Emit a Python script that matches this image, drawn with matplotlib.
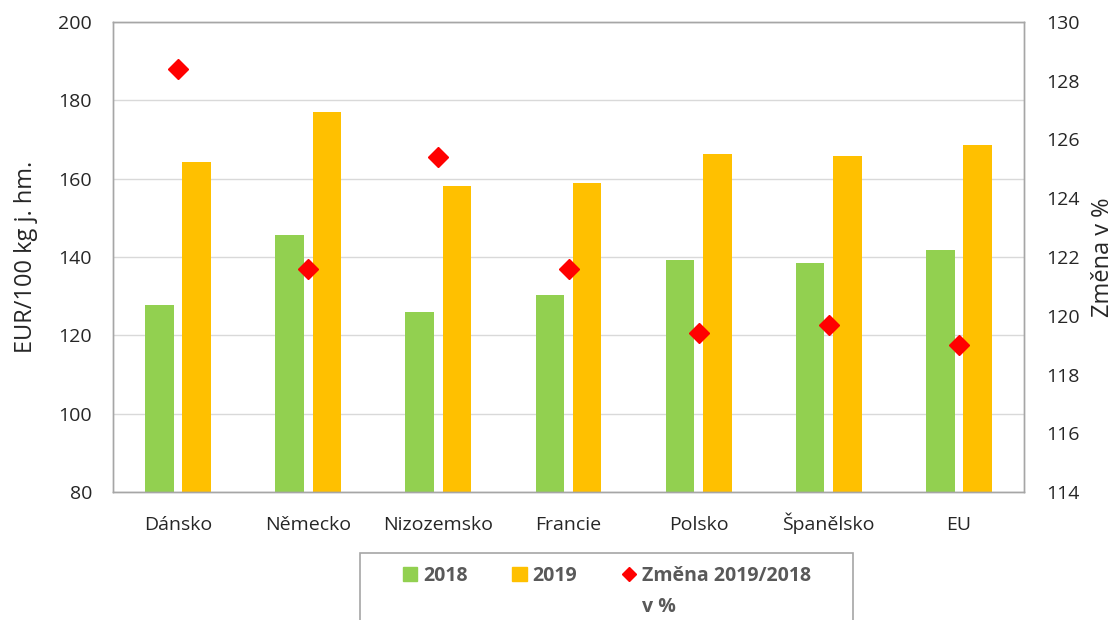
import numpy as np
import matplotlib.pyplot as plt
from matplotlib.patches import Patch, Rectangle
from matplotlib.lines import Line2D

# Data
countries = ['Dánsko', 'Německo', 'Nizozemsko', 'Francie', 'Polsko', 'Španělsko', 'EU']
price_2018 = [127.7, 145.7, 126.0, 130.4, 139.2, 138.4, 141.7]
price_2019 = [164.2, 177.1, 158.2, 159.0, 166.2, 165.9, 168.6]
change_pct = [128.4, 121.6, 125.4, 121.6, 119.4, 119.7, 119.0]

plt.rcParams['font.family'] = ['Open Sans', 'DejaVu Sans']

W, H = 1118, 620
fig = plt.figure(figsize=(W / 100, H / 100), dpi=100)
ax = fig.add_axes([113 / W, 1 - 492 / H, 911 / W, 470 / H])
ax2 = ax.twinx()

x = np.arange(len(countries))
bw = 0.219
off = 0.143
ax.bar(x - off, price_2018, bw, color='#92D050', zorder=2)
ax.bar(x + off, price_2019, bw, color='#FFC000', zorder=2)
ax2.plot(x, change_pct, linestyle='none', marker='D', markersize=10,
         color='#FF0000', zorder=3)

ax.set_xlim(-0.5, len(countries) - 0.5)
ax.set_ylim(80, 200)
ax.set_yticks(np.arange(80, 201, 20))
ax2.set_ylim(114, 130)
ax2.set_yticks(np.arange(114, 131, 2))

ax.set_xticks(x)
ax.set_xticklabels(countries)
ax.yaxis.grid(True, color='#D9D9D9', linewidth=1)
ax.set_axisbelow(True)

for a in (ax, ax2):
    for s in a.spines.values():
        s.set_color('#A6A6A6')
        s.set_linewidth(1)
    a.tick_params(length=0, labelsize=14, colors='#262626')
ax.tick_params(axis='y', pad=15)
ax.tick_params(axis='x', pad=27)
ax2.tick_params(axis='y', pad=16)
# keep labels on one baseline (Š would otherwise push its label down)
for t in ax.get_xticklabels():
    t.set_verticalalignment('baseline')

ax.set_ylabel('EUR/100 kg j. hm.', fontsize=17, color='#262626', labelpad=15)
ax2.set_ylabel('Změna v %', fontsize=17, color='#262626', labelpad=8)

# Legend box (runs off the bottom edge like the original)
fig.patches.append(Rectangle((360 / W, -0.1), (853 - 360) / W, 0.1 + (620 - 553) / H,
                             transform=fig.transFigure, facecolor='white',
                             edgecolor='#A6A6A6', linewidth=1.2))
handles = [Patch(color='#92D050'), Patch(color='#FFC000'),
           Line2D([], [], linestyle='none', marker='D', markersize=7, color='#FF0000')]
leg = fig.legend(handles, ['2018', '2019', 'Změna 2019/2018'], ncol=3,
                 loc='center left', bbox_to_anchor=(385 / W, 1 - 576 / H),
                 frameon=False, handlelength=0.75, handleheight=0.75,
                 handletextpad=0.3, columnspacing=2.3,
                 prop={'size': 14, 'weight': 'bold'}, labelcolor='#595959')

fig.canvas.draw()
bb = leg.get_texts()[2].get_window_extent()
fig.text(bb.x0 / W, 1 - 607 / H, 'v %', ha='left', va='center',
         fontsize=14, fontweight='bold', color='#595959')

fig.savefig('out.png', dpi=100)
